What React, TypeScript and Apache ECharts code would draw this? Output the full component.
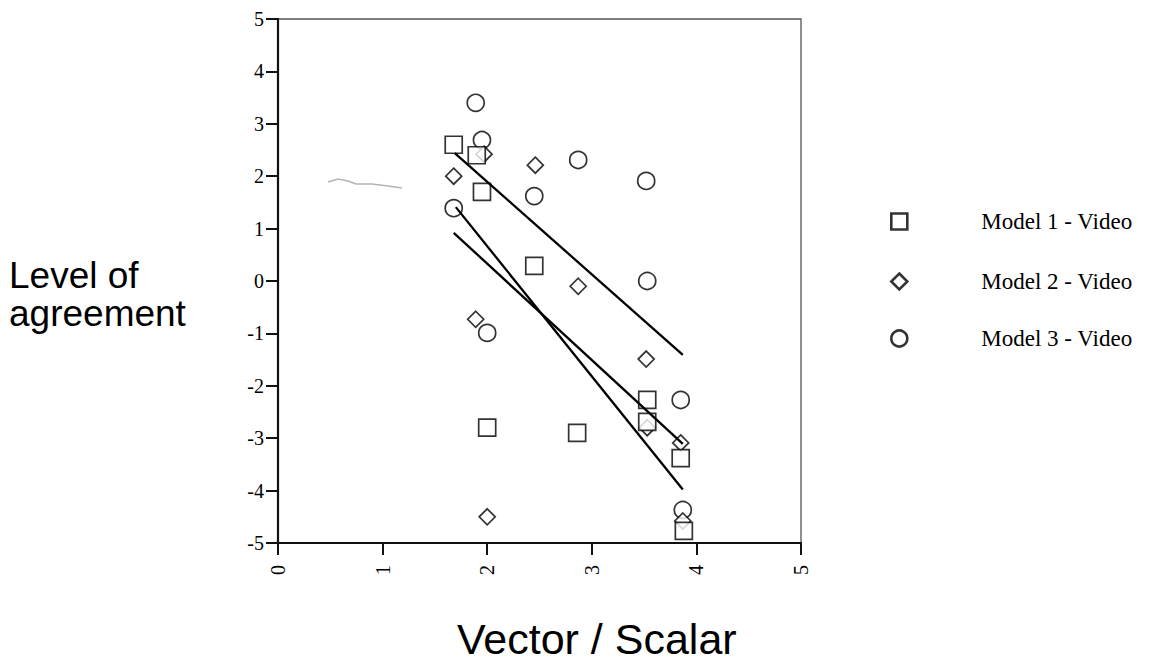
import React, { useEffect, useRef } from "react";
import * as echarts from "echarts";

// Axis ticks
const xTickValues = [0, 1, 2, 3, 4, 5];
const yTickValues = [-5, -4, -3, -2, -1, 0, 1, 2, 3, 4, 5];

// Model 1 - Video (squares)
const model1X = [1.68, 1.9, 1.95, 2.45, 2.0, 2.86, 3.53, 3.53, 3.85, 3.88];
const model1Y = [2.6, 2.4, 1.7, 0.29, -2.8, -2.9, -2.27, -2.69, -3.38, -4.77];

// Model 2 - Video (diamonds)
const model2X = [1.68, 1.97, 2.46, 1.89, 2.0, 2.87, 3.52, 3.53, 3.85, 3.87];
const model2Y = [2.0, 2.42, 2.21, -0.73, -4.5, -0.1, -1.49, -2.8, -3.09, -4.58];

// Model 3 - Video (circles)
const model3X = [1.89, 1.95, 1.68, 2.45, 2.87, 3.52, 3.53, 2.0, 3.85, 3.87];
const model3Y = [3.4, 2.69, 1.39, 1.62, 2.31, 1.91, 0.0, -0.99, -2.27, -4.37];

// Fitted lines: [x start, x end], [y start, y end]
const fit1X = [1.69, 3.87];
const fit1Y = [2.44, -1.41];
const fit2X = [1.7, 3.87];
const fit2Y = [1.41, -3.98];
const fit3X = [1.68, 3.87];
const fit3Y = [0.92, -3.11];

const seriesNames = ["Model 1 - Video", "Model 2 - Video", "Model 3 - Video"];

const zip = (xs: number[], ys: number[]) => xs.map((x, i) => [x, ys[i]]);

const SERIF = "'Liberation Serif', 'Times New Roman', serif";
const SANS = "'Liberation Sans', Arial, Helvetica, sans-serif";

export default function App() {
  const ref = useRef<HTMLDivElement>(null);

  useEffect(() => {
    document.body.style.margin = "0";
    const chart = echarts.init(ref.current!, null, { renderer: "svg" });

    const markerStyle = {
      color: "#ffffff",
      borderColor: "#000000",
      borderWidth: 1.7,
    };

    const fitLine = (xs: number[], ys: number[]) => ({
      type: "line",
      data: zip(xs, ys),
      symbol: "none",
      z: 6,
      lineStyle: { color: "#000000", width: 2.3 },
      silent: true,
    });

    const legendCommon = {
      orient: "vertical",
      itemWidth: 16,
      itemHeight: 16,
      selectedMode: false,
      textStyle: {
        fontFamily: SERIF,
        fontSize: 23,
        color: "#000000",
        padding: [0, 0, 0, 69],
      },
      itemStyle: { borderWidth: 2.6 },
    };

    chart.setOption({
      animation: false,
      backgroundColor: "#ffffff",
      grid: {
        left: 278,
        top: 19,
        right: 350,
        bottom: 125,
        show: true,
        borderColor: "#555555",
        borderWidth: 1.3,
      },
      xAxis: {
        type: "value",
        min: xTickValues[0],
        max: xTickValues[xTickValues.length - 1],
        interval: 1,
        axisLine: { show: true, onZero: false, lineStyle: { color: "#111111", width: 2.2 } },
        axisTick: { show: true, inside: false, length: 12, lineStyle: { color: "#111111", width: 2 } },
        splitLine: { show: false },
        axisLabel: {
          rotate: 90,
          margin: 22,
          fontFamily: SERIF,
          fontSize: 20,
          color: "#000000",
        },
      },
      yAxis: {
        type: "value",
        min: yTickValues[0],
        max: yTickValues[yTickValues.length - 1],
        interval: 1,
        axisLine: { show: true, onZero: false, lineStyle: { color: "#111111", width: 2.2 } },
        axisTick: { show: true, inside: false, length: 12, lineStyle: { color: "#111111", width: 2 } },
        splitLine: { show: false },
        axisLabel: {
          margin: 14,
          fontFamily: SERIF,
          fontSize: 20,
          color: "#000000",
        },
      },
      legend: [
        { ...legendCommon, data: [seriesNames[0]], left: 885, top: 205 },
        { ...legendCommon, data: [seriesNames[1]], left: 885, top: 265 },
        { ...legendCommon, data: [seriesNames[2]], left: 885, top: 322 },
      ],
      series: [
        {
          name: seriesNames[2],
          type: "scatter",
          symbol: "circle",
          symbolSize: 17,
          z: 3,
          itemStyle: markerStyle,
          data: zip(model3X, model3Y),
        },
        {
          name: seriesNames[1],
          type: "scatter",
          symbol: "diamond",
          symbolSize: 16,
          z: 4,
          itemStyle: markerStyle,
          data: zip(model2X, model2Y),
        },
        {
          name: seriesNames[0],
          type: "scatter",
          symbol: "rect",
          symbolSize: 17,
          z: 5,
          itemStyle: markerStyle,
          data: zip(model1X, model1Y),
        },
        fitLine(fit1X, fit1Y),
        fitLine(fit2X, fit2Y),
        fitLine(fit3X, fit3Y),
      ],
      graphic: [
        {
          type: "text",
          left: 9,
          top: 256,
          style: {
            text: "Level of\nagreement",
            font: `37px ${SANS}`,
            lineHeight: 38,
            fill: "#000000",
          },
        },
        {
          type: "text",
          left: 457,
          top: 617,
          style: {
            text: "Vector / Scalar",
            font: `43px ${SANS}`,
            fill: "#000000",
          },
        },
        {
          type: "polyline",
          shape: {
            points: [
              [328, 182],
              [338, 179],
              [348, 181],
              [356, 184],
              [372, 184],
              [388, 186],
              [402, 188],
            ],
          },
          style: { stroke: "#b4b4b4", lineWidth: 1.6, fill: "none" },
          silent: true,
        },
      ],
    });

    return () => {
      chart.dispose();
    };
  }, []);

  return <div ref={ref} style={{ width: 1151, height: 668 }} />;
}
